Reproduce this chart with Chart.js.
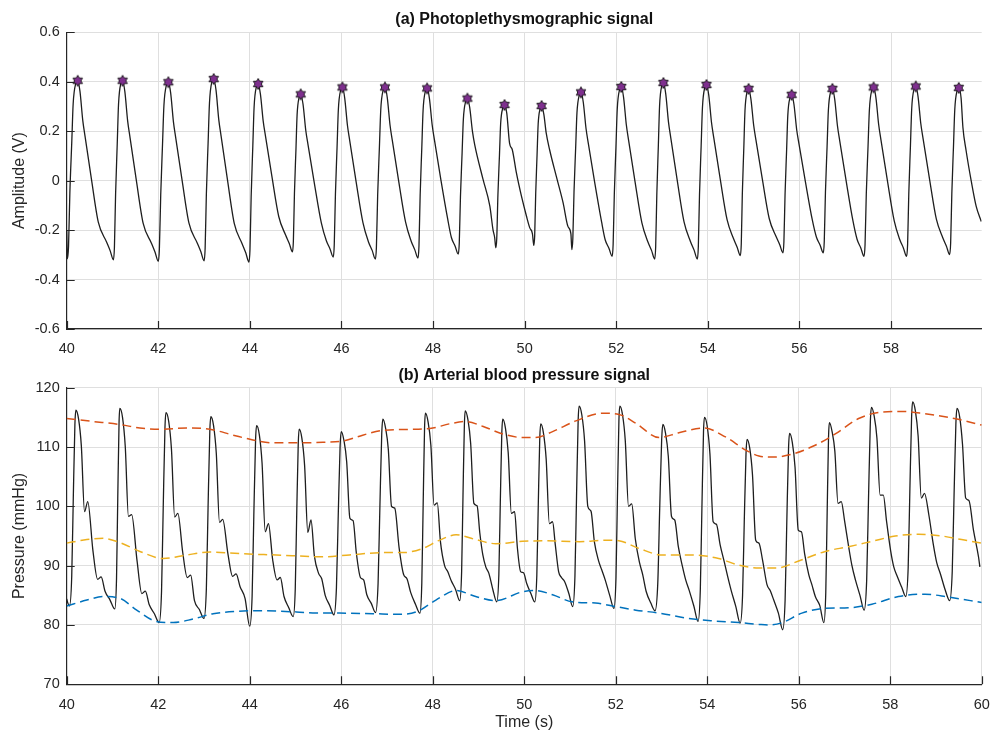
<!DOCTYPE html>
<html>
<head>
<meta charset="utf-8">
<script src="https://cdn.jsdelivr.net/npm/chart.js@4.4.1/dist/chart.umd.min.js"></script>
<style>
  html, body { margin: 0; padding: 0; background: #fff; }
  #wrap { position: relative; width: 990px; height: 735px; }
  #wrap canvas { position: absolute; left: 0; }
</style>
</head>
<body>
<div id="wrap">
  <canvas id="ppg" width="990" height="360" style="top:0"></canvas>
  <canvas id="abp" width="990" height="375" style="top:360px"></canvas>
</div>
<script>
// (a) PPG signal, [time s, amplitude V]
const ppgSignal = [
  [40.00,-0.20],[40.015,-0.316],
  [40.04,-0.266],[40.069,-0.050],[40.11,0.152],[40.141,0.310],[40.20,0.394],[40.24,0.404],
  [40.29,0.361],[40.35,0.245],[40.40,0.180],[40.54,0.006],[40.69,-0.168],[40.87,-0.248],[40.95,-0.284],[41.02,-0.320],
  [41.042,-0.269],[41.068,-0.052],[41.104,0.151],[41.132,0.310],[41.184,0.394],[41.22,0.404],
  [41.27,0.360],[41.33,0.243],[41.38,0.178],[41.52,0.002],[41.67,-0.173],[41.85,-0.253],[41.93,-0.290],[42.00,-0.326],
  [42.024,-0.275],[42.053,-0.058],[42.092,0.145],[42.123,0.304],[42.18,0.388],[42.22,0.398],
  [42.27,0.355],[42.33,0.239],[42.38,0.174],[42.52,0.001],[42.67,-0.172],[42.85,-0.252],[42.93,-0.288],[43.00,-0.324],
  [43.023,-0.273],[43.05,-0.052],[43.088,0.154],[43.118,0.315],[43.172,0.401],[43.21,0.411],
  [43.26,0.367],[43.32,0.248],[43.37,0.182],[43.51,0.004],[43.66,-0.174],[43.83,-0.255],[43.91,-0.292],[43.98,-0.329],
  [44.002,-0.279],[44.028,-0.063],[44.064,0.139],[44.092,0.297],[44.144,0.381],[44.18,0.391],
  [44.23,0.350],[44.29,0.242],[44.34,0.181],[44.48,0.018],[44.63,-0.145],[44.78,-0.220],[44.86,-0.254],[44.93,-0.288],
  [44.95,-0.243],[44.973,-0.052],[45.006,0.126],[45.031,0.266],[45.078,0.339],[45.11,0.349],
  [45.16,0.310],[45.22,0.204],[45.27,0.145],[45.41,-0.013],[45.56,-0.171],[45.67,-0.243],[45.75,-0.276],[45.82,-0.309],
  [45.842,-0.261],[45.868,-0.055],[45.904,0.137],[45.932,0.288],[45.984,0.367],[46.02,0.377],
  [46.07,0.335],[46.13,0.224],[46.18,0.162],[46.32,-0.005],[46.47,-0.171],[46.59,-0.248],[46.67,-0.282],[46.74,-0.317],
  [46.763,-0.268],[46.79,-0.060],[46.828,0.134],[46.858,0.287],[46.912,0.367],[46.95,0.377],
  [47.00,0.336],[47.06,0.225],[47.11,0.163],[47.25,-0.003],[47.40,-0.168],[47.52,-0.244],[47.60,-0.279],[47.67,-0.313],
  [47.692,-0.265],[47.718,-0.059],[47.754,0.133],[47.782,0.284],[47.834,0.363],[47.87,0.373],
  [47.92,0.333],[47.98,0.226],[48.03,0.165],[48.17,0.004],[48.32,-0.156],[48.40,-0.230],[48.48,-0.264],[48.55,-0.297],
  [48.572,-0.253],[48.598,-0.064],[48.634,0.112],[48.662,0.250],[48.714,0.322],[48.75,0.332],
  [48.80,0.296],[48.86,0.199],[48.91,0.145],[49.09,0.006],[49.24,-0.103],[49.31,-0.200],[49.345,-0.230],[49.37,-0.272],
  [49.391,-0.232],[49.416,-0.058],[49.45,0.104],[49.476,0.231],[49.526,0.296],[49.56,0.306],
  [49.61,0.272],[49.67,0.152],[49.73,0.125],[49.82,0.031],[49.93,-0.063],[50.04,-0.144],[50.11,-0.190],[50.17,-0.215],[50.20,-0.262],
  [50.219,-0.223],[50.241,-0.053],[50.271,0.105],[50.295,0.229],[50.339,0.292],[50.37,0.302],
  [50.42,0.267],[50.47,0.193],[50.545,0.125],[50.69,0.018],[50.84,-0.090],[50.945,-0.185],[51.01,-0.215],[51.03,-0.279],
  [51.052,-0.234],[51.078,-0.044],[51.114,0.134],[51.142,0.274],[51.194,0.347],[51.23,0.357],
  [51.28,0.317],[51.34,0.211],[51.39,0.151],[51.53,-0.008],[51.68,-0.167],[51.76,-0.240],[51.84,-0.273],[51.91,-0.306],
  [51.932,-0.258],[51.958,-0.053],[51.994,0.139],[52.022,0.290],[52.074,0.369],[52.11,0.379],
  [52.16,0.337],[52.22,0.226],[52.27,0.163],[52.41,-0.004],[52.56,-0.171],[52.69,-0.247],[52.77,-0.282],[52.84,-0.317],
  [52.861,-0.267],[52.886,-0.054],[52.92,0.146],[52.946,0.302],[52.996,0.385],[53.03,0.395],
  [53.08,0.352],[53.14,0.238],[53.19,0.174],[53.33,0.003],[53.48,-0.167],[53.62,-0.246],[53.70,-0.281],[53.77,-0.317],
  [53.792,-0.268],[53.818,-0.057],[53.854,0.141],[53.882,0.295],[53.934,0.377],[53.97,0.387],
  [54.02,0.346],[54.08,0.235],[54.13,0.173],[54.27,0.007],[54.42,-0.158],[54.56,-0.234],[54.64,-0.269],[54.71,-0.303],
  [54.73,-0.256],[54.753,-0.054],[54.786,0.135],[54.811,0.283],[54.858,0.361],[54.89,0.371],
  [54.94,0.331],[55.00,0.225],[55.05,0.165],[55.19,0.006],[55.34,-0.153],[55.49,-0.226],[55.57,-0.259],[55.64,-0.292],
  [55.661,-0.247],[55.686,-0.056],[55.72,0.123],[55.746,0.264],[55.796,0.337],[55.83,0.347],
  [55.88,0.309],[55.94,0.206],[55.99,0.149],[56.13,-0.004],[56.28,-0.158],[56.37,-0.228],[56.45,-0.260],[56.52,-0.292],
  [56.542,-0.246],[56.568,-0.047],[56.604,0.139],[56.632,0.285],[56.684,0.361],[56.72,0.371],
  [56.77,0.330],[56.83,0.222],[56.88,0.161],[57.02,-0.001],[57.17,-0.164],[57.26,-0.238],[57.34,-0.272],[57.41,-0.306],
  [57.433,-0.258],[57.46,-0.053],[57.498,0.138],[57.528,0.288],[57.582,0.367],[57.62,0.377],
  [57.67,0.336],[57.73,0.227],[57.78,0.165],[57.92,0.001],[58.07,-0.163],[58.19,-0.238],[58.27,-0.272],[58.34,-0.306],
  [58.362,-0.258],[58.388,-0.052],[58.424,0.141],[58.452,0.292],[58.504,0.371],[58.54,0.381],
  [58.59,0.340],[58.65,0.231],[58.70,0.170],[58.84,0.007],[58.99,-0.156],[59.13,-0.231],[59.21,-0.265],[59.28,-0.299],
  [59.302,-0.252],[59.328,-0.050],[59.364,0.139],[59.392,0.287],[59.444,0.365],[59.48,0.375],
  [59.53,0.334],[59.57,0.215],[59.64,0.121],[59.75,0.000],[59.86,-0.104],[59.97,-0.165]
];

// detected systolic peaks (star markers)
const peakTimes  = [40.24,41.22,42.22,43.21,44.18,45.11,46.02,46.95,47.87,48.75,49.56,
                    50.37,51.23,52.11,53.03,53.97,54.89,55.83,56.72,57.62,58.54,59.48];
const peakValues = [0.404,0.404,0.398,0.411,0.391,0.349,0.377,0.377,0.373,0.332,0.306,
                    0.302,0.357,0.379,0.395,0.387,0.371,0.347,0.371,0.377,0.381,0.375];

// (b) ABP signal, [time s, pressure mmHg]
const abpSignal = [
  [40.00,84.4],[40.03,83.6],[40.06,83.2],
  [40.11,88.2],[40.144,101.4],[40.179,113.7],[40.20,116.2],
  [40.26,114.7],[40.32,110.2],[40.39,99.1],[40.46,100.8],[40.574,92.5],[40.676,87.7],[40.753,88.1],[40.838,85.7],[40.948,84.2],[41.05,82.7],
  [41.089,87.8],[41.116,101.3],[41.144,114.0],[41.16,116.5],
  [41.22,115.0],[41.28,110.1],[41.35,98.3],[41.42,98.6],[41.538,90.8],[41.642,85.3],[41.719,85.7],[41.805,83.4],[41.917,81.9],[42.02,80.4],
  [42.073,85.7],[42.11,99.9],[42.148,113.3],[42.17,115.8],
  [42.23,114.3],[42.29,109.6],[42.36,98.2],[42.43,98.8],[42.535,92.3],[42.635,88.0],[42.71,88.4],[42.793,84.1],[42.90,82.6],[43.00,81.1],
  [43.053,86.2],[43.09,99.8],[43.128,112.6],[43.15,115.1],
  [43.21,113.6],[43.27,108.9],[43.34,97.3],[43.41,97.8],[43.524,92.0],[43.626,88.2],[43.703,88.6],[43.788,86.5],[43.898,84.5],[44.00,79.8],
  [44.053,84.9],[44.09,98.4],[44.128,111.1],[44.15,113.6],
  [44.21,112.1],[44.27,107.3],[44.34,95.7],[44.41,97.1],[44.502,91.0],[44.598,87.6],[44.67,88.0],[44.75,84.8],[44.854,82.9],[44.95,81.4],
  [44.996,86.1],[45.028,98.8],[45.061,110.5],[45.08,113.0],
  [45.14,111.5],[45.20,106.9],[45.27,95.6],[45.34,97.7],[45.414,91.6],[45.506,88.7],[45.574,87.8],[45.65,85.0],[45.749,83.3],[45.84,81.7],
  [45.896,86.3],[45.936,98.7],[45.976,110.1],[46.00,112.6],
  [46.06,111.1],[46.12,107.5],[46.19,98.0],[46.26,97.6],[46.33,92.2],[46.42,88.0],[46.49,87.6],[46.56,85.1],[46.66,83.6],[46.75,82.1],
  [46.806,87.0],[46.846,100.0],[46.886,112.2],[46.91,114.7],
  [46.97,113.2],[47.03,109.6],[47.10,100.0],[47.17,99.7],[47.266,93.0],[47.364,88.5],[47.437,87.8],[47.518,85.5],[47.623,83.5],[47.72,82.0],
  [47.762,87.1],[47.792,100.5],[47.822,113.2],[47.84,115.7],
  [47.90,114.2],[47.96,110.3],[48.03,100.2],[48.10,100.6],[48.17,94.0],[48.26,90.0],[48.328,89.0],[48.403,87.5],[48.50,86.0],[48.59,84.1],
  [48.632,88.9],[48.662,101.7],[48.692,113.6],[48.71,116.1],
  [48.77,114.6],[48.83,110.6],[48.90,100.5],[48.97,100.1],[49.03,95.5],[49.096,91.8],[49.16,89.8],[49.228,88.7],[49.317,85.9],[49.40,83.9],
  [49.446,88.5],[49.478,100.8],[49.51,112.2],[49.53,114.7],
  [49.59,113.2],[49.65,109.1],[49.72,98.8],[49.79,99.1],[49.85,93.1],[49.922,89.0],[49.985,88.8],[50.055,87.0],[50.146,85.3],[50.23,83.9],
  [50.276,88.4],[50.308,100.4],[50.34,111.4],[50.36,113.9],
  [50.42,112.4],[50.48,108.0],[50.55,97.1],[50.62,97.4],[50.68,93.5],[50.752,89.0],[50.815,88.0],[50.885,87.3],[50.976,85.3],[51.06,83.1],
  [51.109,88.2],[51.144,101.7],[51.179,114.4],[51.20,116.9],
  [51.26,115.4],[51.32,111.0],[51.39,100.0],[51.46,99.2],[51.534,94.0],[51.626,90.8],[51.694,89.3],[51.77,87.6],[51.869,85.0],[51.96,82.8],
  [52.006,87.9],[52.038,101.6],[52.07,114.4],[52.09,116.9],
  [52.15,115.4],[52.21,111.0],[52.28,100.0],[52.35,100.4],[52.429,94.5],[52.521,90.5],[52.59,88.5],[52.668,85.6],[52.768,83.7],[52.86,82.4],
  [52.92,87.1],[52.962,99.7],[53.005,111.3],[53.03,113.8],
  [53.09,112.3],[53.15,108.4],[53.22,98.3],[53.29,97.7],[53.369,93.2],[53.461,89.8],[53.53,87.6],[53.608,85.8],[53.708,83.2],[53.80,80.6],
  [53.849,85.8],[53.884,99.5],[53.919,112.5],[53.94,115.0],
  [54.00,113.5],[54.06,108.8],[54.13,97.4],[54.20,97.0],[54.283,93.5],[54.377,90.5],[54.447,88.2],[54.525,85.8],[54.626,83.1],[54.72,80.3],
  [54.773,85.0],[54.81,97.4],[54.848,108.8],[54.87,111.3],
  [54.93,109.8],[54.99,105.3],[55.06,94.3],[55.13,93.8],[55.213,90.8],[55.307,86.8],[55.377,85.8],[55.455,84.2],[55.556,82.0],[55.65,79.2],
  [55.703,84.2],[55.74,97.4],[55.778,109.8],[55.80,112.3],
  [55.86,110.8],[55.92,106.6],[55.99,96.0],[56.06,95.7],[56.13,92.0],[56.22,88.5],[56.288,86.8],[56.363,84.8],[56.46,83.3],[56.55,80.4],
  [56.592,85.5],[56.622,98.9],[56.652,111.6],[56.67,114.1],
  [56.73,112.6],[56.79,109.3],[56.86,100.5],[56.93,100.8],[57.004,97.5],[57.096,93.0],[57.164,90.0],[57.24,87.6],[57.339,85.0],[57.43,82.5],
  [57.486,87.6],[57.526,101.3],[57.566,114.2],[57.59,116.7],
  [57.65,115.2],[57.71,111.5],[57.78,101.9],[57.85,101.9],[57.92,97.5],[58.01,92.5],[58.078,89.8],[58.153,88.2],[58.25,86.4],[58.34,84.8],
  [58.393,89.7],[58.43,102.8],[58.468,115.1],[58.49,117.6],
  [58.55,116.1],[58.61,111.9],[58.68,101.4],[58.75,102.2],[58.846,98.5],[58.944,93.5],[59.017,90.5],[59.098,88.6],[59.203,85.9],[59.30,84.1],
  [59.356,89.0],[59.396,101.9],[59.436,114.0],[59.46,116.5],
  [59.52,115.0],[59.58,110.5],[59.65,101.4],[59.72,101.0],[59.82,96.0],[59.93,91.5],[59.96,89.8]
];

// envelopes: systolic (orange), mean (yellow), diastolic (blue)
const sbpEnvelope = [
  [40.0,114.8],[40.58,114.3],[41.16,113.8],[41.6,113.2],[42.04,113.0],[42.62,113.2],[43.13,113.0],[43.64,112.0],
  [44.07,111.2],[44.51,110.7],[45.1,110.7],[45.6,110.8],[46.04,111.0],[46.47,112.0],[46.91,112.8],[47.64,113.0],
  [48.0,113.2],[48.36,113.9],[48.73,114.3],[49.09,113.5],[49.53,112.2],[49.96,111.6],[50.25,111.6],[50.62,112.6],
  [51.13,114.4],[51.71,115.7],[52.07,115.5],[52.44,114.0],[52.95,111.6],[53.38,112.4],[53.93,113.2],[54.4,111.7],
  [54.84,109.5],[55.13,108.5],[55.45,108.3],[55.9,108.9],[56.36,110.3],[56.8,112.2],[57.31,114.8],[57.82,115.9],
  [58.25,116.0],[58.76,115.6],[59.27,115.0],[59.64,114.4],[60.0,113.7]
];
const mapEnvelope = [
  [40.0,93.8],[40.44,94.4],[40.8,94.6],[41.16,93.9],[41.6,92.4],[42.11,91.2],[42.62,91.8],[43.13,92.3],[43.85,92.0],
  [44.58,91.8],[45.6,91.5],[46.18,91.8],[46.91,92.2],[47.35,92.2],[47.78,92.9],[48.15,94.3],[48.51,95.2],[48.94,94.4],
  [49.38,93.7],[49.96,94.1],[50.47,94.2],[51.2,94.05],[51.78,94.3],[52.07,94.2],[52.51,92.9],[53.02,91.8],[53.67,91.8],
  [54.25,91.2],[54.69,90.1],[55.13,89.6],[55.5,89.6],[56.07,91.0],[56.58,92.4],[57.09,93.2],[57.6,94.1],[58.11,95.0],
  [58.62,95.3],[59.13,95.0],[59.56,94.4],[60.0,93.8]
];
const dbpEnvelope = [
  [40.0,83.2],[40.44,84.2],[40.8,84.8],[41.16,84.5],[41.53,82.5],[41.96,80.6],[42.33,80.4],[42.76,81.0],[43.2,81.9],
  [43.71,82.3],[44.22,82.4],[45.02,82.2],[45.45,82.0],[45.96,82.0],[46.69,81.9],[47.27,81.8],[47.67,82.3],[48.07,84.2],
  [48.51,85.8],[48.94,84.8],[49.38,84.1],[49.96,85.6],[50.25,85.8],[50.62,85.1],[51.05,83.9],[51.56,83.7],[52.0,83.1],
  [52.44,82.5],[52.95,82.0],[53.6,81.1],[54.11,80.7],[54.69,80.4],[55.13,80.1],[55.35,80.0],[55.64,80.4],[56.07,82.0],
  [56.58,82.8],[57.09,82.9],[57.6,83.5],[58.18,84.8],[58.76,85.2],[59.27,84.7],[60.0,83.8]
];

const INK = '#262626';
const GRID = '#dfdfdf';
Chart.defaults.font.family = '"Liberation Sans", Arial, Helvetica, sans-serif';
Chart.defaults.color = INK;

const xy = arr => arr.map(([x, y]) => ({ x, y }));

// purple hexagram marker, like MATLAB 'h'
function hexagram(r) {
  const c = document.createElement('canvas');
  const s = Math.ceil(r * 2 + 3);
  c.width = c.height = s;
  const g = c.getContext('2d');
  g.translate(s / 2, s / 2);
  g.beginPath();
  for (let i = 0; i < 12; i++) {
    const rr = i % 2 ? r / Math.sqrt(3) : r;
    const a = -Math.PI / 2 + i * Math.PI / 6;
    g.lineTo(rr * Math.cos(a), rr * Math.sin(a));
  }
  g.closePath();
  g.fillStyle = '#7e2f8e';
  g.fill();
  g.lineWidth = 0.9;
  g.strokeStyle = '#111';
  g.stroke();
  return c;
}

// MATLAB draws its tick marks inside the axes
const innerTicks = {
  id: 'innerTicks',
  afterDraw(chart) {
    const { ctx, chartArea: a, scales: { x, y } } = chart;
    ctx.save();
    ctx.strokeStyle = INK;
    ctx.lineWidth = 1.2;
    ctx.beginPath();
    x.ticks.forEach(t => {
      const px = Math.round(x.getPixelForValue(t.value)) + 0.5;
      ctx.moveTo(px, a.bottom);
      ctx.lineTo(px, a.bottom - 8);
    });
    y.ticks.forEach(t => {
      const py = Math.round(y.getPixelForValue(t.value)) + 0.5;
      ctx.moveTo(a.left, py);
      ctx.lineTo(a.left + 8, py);
    });
    ctx.stroke();
    ctx.restore();
  }
};

function xAxis(max, height, titleText) {
  return {
    type: 'linear', min: 40, max: max,
    afterBuildTicks: s => {
      s.ticks = s.ticks.filter(t => Math.abs(t.value - Math.round(t.value)) < 1e-6 && Math.round(t.value) % 2 === 0);
    },
    afterFit: s => { s.height = height; s.paddingLeft = 0; s.paddingRight = 0; },
    ticks: { stepSize: 2, padding: 11.5, font: { size: 14.5 }, color: INK },
    grid: { color: GRID, lineWidth: 1, drawTicks: false },
    border: { color: INK, width: 1.2 },
    title: {
      display: !!titleText, text: titleText || '', color: INK,
      font: { size: 16 }, padding: { top: 0, bottom: 2.5 }
    }
  };
}

function yAxis(min, max, step, titleText) {
  return {
    min: min, max: max,
    afterFit: s => { s.width = 66.7; },
    ticks: { stepSize: step, padding: 7, font: { size: 14.5 }, color: INK, callback: v => +v.toFixed(1) },
    grid: { color: GRID, lineWidth: 1, drawTicks: false },
    border: { color: INK, width: 1.2 },
    title: { display: true, text: titleText, color: INK, font: { size: 16 }, padding: { top: 10, bottom: 0 } }
  };
}

function titleOpts(text, top, bottom) {
  return {
    display: true, text: text, color: '#111', fullSize: false,
    font: { size: 16, weight: 'bold' }, padding: { top: top, bottom: bottom }
  };
}

const baseOpts = {
  responsive: false, animation: false, devicePixelRatio: 1, events: [],
  layout: { padding: { left: 0, right: 8.3, top: 0, bottom: 0 } },
  elements: { point: { radius: 0 }, line: { cubicInterpolationMode: 'monotone' } }
};

new Chart(document.getElementById('ppg'), {
  type: 'line',
  data: {
    datasets: [
      {
        data: peakTimes.map((t, i) => ({ x: t, y: peakValues[i] })),
        showLine: false, pointStyle: hexagram(5.5), pointRadius: 5
      },
      { data: xy(ppgSignal), borderColor: '#1e1e1e', borderWidth: 1.3 }
    ]
  },
  options: {
    ...baseOpts,
    scales: { x: xAxis(59.98, 31), y: yAxis(-0.6, 0.6, 0.2, 'Amplitude (V)') },
    plugins: {
      legend: { display: false }, tooltip: { enabled: false },
      title: titleOpts('(a) Photoplethysmographic signal', 9.5, 3.6)
    }
  },
  plugins: [innerTicks]
});

new Chart(document.getElementById('abp'), {
  type: 'line',
  data: {
    datasets: [
      { data: xy(sbpEnvelope), borderColor: '#d95319', borderWidth: 1.5, borderDash: [9, 5] },
      { data: xy(mapEnvelope), borderColor: '#edb120', borderWidth: 1.5, borderDash: [9, 5] },
      { data: xy(dbpEnvelope), borderColor: '#0072bd', borderWidth: 1.5, borderDash: [9, 5] },
      { data: xy(abpSignal), borderColor: '#1e1e1e', borderWidth: 1.3 }
    ]
  },
  options: {
    ...baseOpts,
    scales: { x: xAxis(60, 50.7, 'Time (s)'), y: yAxis(70, 120, 10, 'Pressure (mmHg)') },
    plugins: {
      legend: { display: false }, tooltip: { enabled: false },
      title: titleOpts('(b) Arterial blood pressure signal', 6, 2.5)
    }
  },
  plugins: [innerTicks]
});
</script>
</body>
</html>
